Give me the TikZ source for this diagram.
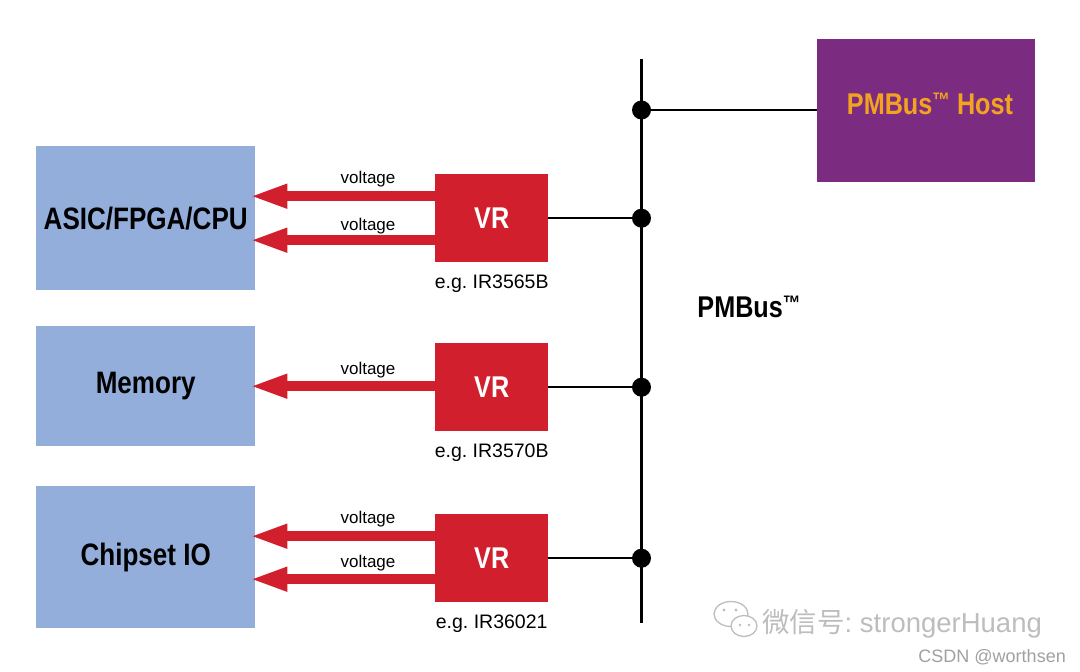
\documentclass[tikz,border=0pt]{standalone}
\usepackage{fontspec}
\setmainfont{Liberation Sans}
\newfontfamily\condfont[FakeStretch=0.84]{Liberation Sans}
\newfontfamily\cjkfont{Noto Sans CJK SC}
\usetikzlibrary{arrows.meta}
\definecolor{blueC}{HTML}{93AEDB}
\definecolor{redC}{HTML}{D21F2E}
\definecolor{purpleC}{HTML}{7B2C81}
\definecolor{orangeC}{HTML}{F4A31F}
\definecolor{wmC}{HTML}{BDBDBD}
\definecolor{wmD}{HTML}{A0A0A0}
\newcommand{\smalltm}{\raisebox{7pt}{\fontsize{21pt}{21pt}\selectfont ™}}
\frenchspacing
\begin{document}
\begin{tikzpicture}[x=1pt,y=-1pt,
  blk/.style={fill=blueC, draw=none, anchor=north west, inner sep=0pt, minimum width=219pt,
    font=\condfont\bfseries\fontsize{31pt}{31pt}\selectfont},
  vrbox/.style={fill=redC, draw=none, anchor=north west, inner sep=0pt, minimum width=113pt,
    minimum height=88pt, text=white, font=\condfont\bfseries\fontsize{30pt}{30pt}\selectfont},
  partlbl/.style={anchor=base, inner sep=0pt, font=\fontsize{19.5pt}{19.5pt}\selectfont},
  voltlbl/.style={anchor=base, inner sep=0pt, font=\fontsize{17pt}{17pt}\selectfont},
  volt/.style={draw=redC, line width=10pt, -{Triangle[length=38pt,width=22pt]}},
  bus/.style={line width=2.7pt},
  tap/.style={line width=2.3pt},
  dot/.style={circle, fill=black, inner sep=0pt, minimum size=19pt},
  hostbox/.style={fill=purpleC, draw=none, anchor=north west, inner sep=0pt,
    minimum width=218pt, minimum height=143pt},
  hosttxt/.style={text=orangeC, inner sep=0pt, font=\condfont\bfseries\fontsize{30pt}{30pt}\selectfont},
  buslbl/.style={inner sep=0pt, font=\condfont\bfseries\fontsize{30pt}{30pt}\selectfont},
]
\useasboundingbox (0,0) rectangle (1080,672);

% target blocks
\node[blk, minimum height=144pt] (asic) at (36,146) {ASIC/FPGA/CPU};
\node[blk, minimum height=120pt] (mem) at (36,326) {Memory};
\node[blk, minimum height=142pt] (chip) at (36,486) {Chipset IO};

% regulators
\node[vrbox] (vr1) at (435,174) {VR};
\node[vrbox] (vr2) at (435,343) {VR};
\node[vrbox] (vr3) at (435,514) {VR};

\node[partlbl] (p1) at ([yshift=-26pt]vr1.south) {e.g. IR3565B};
\node[partlbl] (p2) at ([yshift=-26pt]vr2.south) {e.g. IR3570B};
\node[partlbl] (p3) at ([yshift=-26pt]vr3.south) {e.g. IR36021};

% voltage arrows
\coordinate (a1) at ([yshift=22pt]vr1.west);
\coordinate (a2) at ([yshift=-22pt]vr1.west);
\coordinate (a3) at ([yshift=1pt]vr2.west);
\coordinate (a4) at ([yshift=22pt]vr3.west);
\coordinate (a5) at ([yshift=-21pt]vr3.west);
\foreach \c in {a1,a2} \draw[volt] (\c) -- ([xshift=-6pt]\c -| asic.east);
\draw[volt] (a3) -- ([xshift=-6pt]a3 -| mem.east);
\foreach \c in {a4,a5} \draw[volt] (\c) -- ([xshift=-6pt]\c -| chip.east);

\node[voltlbl] (v1) at (368,183) {voltage};
\node[voltlbl] (v2) at (368,230) {voltage};
\node[voltlbl] (v3) at (368,374) {voltage};
\node[voltlbl] (v4) at (368,523) {voltage};
\node[voltlbl] (v5) at (368,567) {voltage};

% host
\node[hostbox] (host) at (817,39) {};
\node[hosttxt] (hostt) at (930,104) {PMBus\smalltm\ Host};

% bus
\coordinate (bustop) at (641.5,59);
\coordinate (busbot) at (641.5,623);
\draw[bus] (bustop) -- (busbot);
\node[dot] (j0) at (641.5,110) {};
\node[dot] (j1) at (bustop |- vr1.east) {};
\node[dot] (j2) at (bustop |- vr2.east) {};
\node[dot] (j3) at (bustop |- vr3.east) {};
\draw[tap] (j0.center) -- (j0.center -| host.west);
\draw[tap] (vr1.east) -- (j1.center);
\draw[tap] (vr2.east) -- (j2.center);
\draw[tap] (vr3.east) -- (j3.center);

\node[buslbl] (buslabel) at (749,307) {PMBus\smalltm};

% watermark
\begin{scope}[draw=wmC, line width=1.3pt]
  \draw[fill=white] (731,614) ellipse [x radius=17pt, y radius=12.5pt];
  \draw[fill=white] (744,626) ellipse [x radius=13pt, y radius=10.5pt];
  \fill[wmC] (724,610) circle (1.6pt) (736,610) circle (1.6pt);
  \fill[wmC] (740,625) circle (1.4pt) (749,625) circle (1.4pt);
\end{scope}
\node[anchor=base west, inner sep=0pt, text=wmC, font=\fontsize{27.5pt}{27.5pt}\selectfont] (wm) at (762,632)
  {{\cjkfont 微信号}: strongerHuang};
\node[anchor=base east, inner sep=0pt, text=wmD, font=\fontsize{18pt}{18pt}\selectfont] (csdn) at (1066,662)
  {CSDN @worthsen};
\end{tikzpicture}
\end{document}
